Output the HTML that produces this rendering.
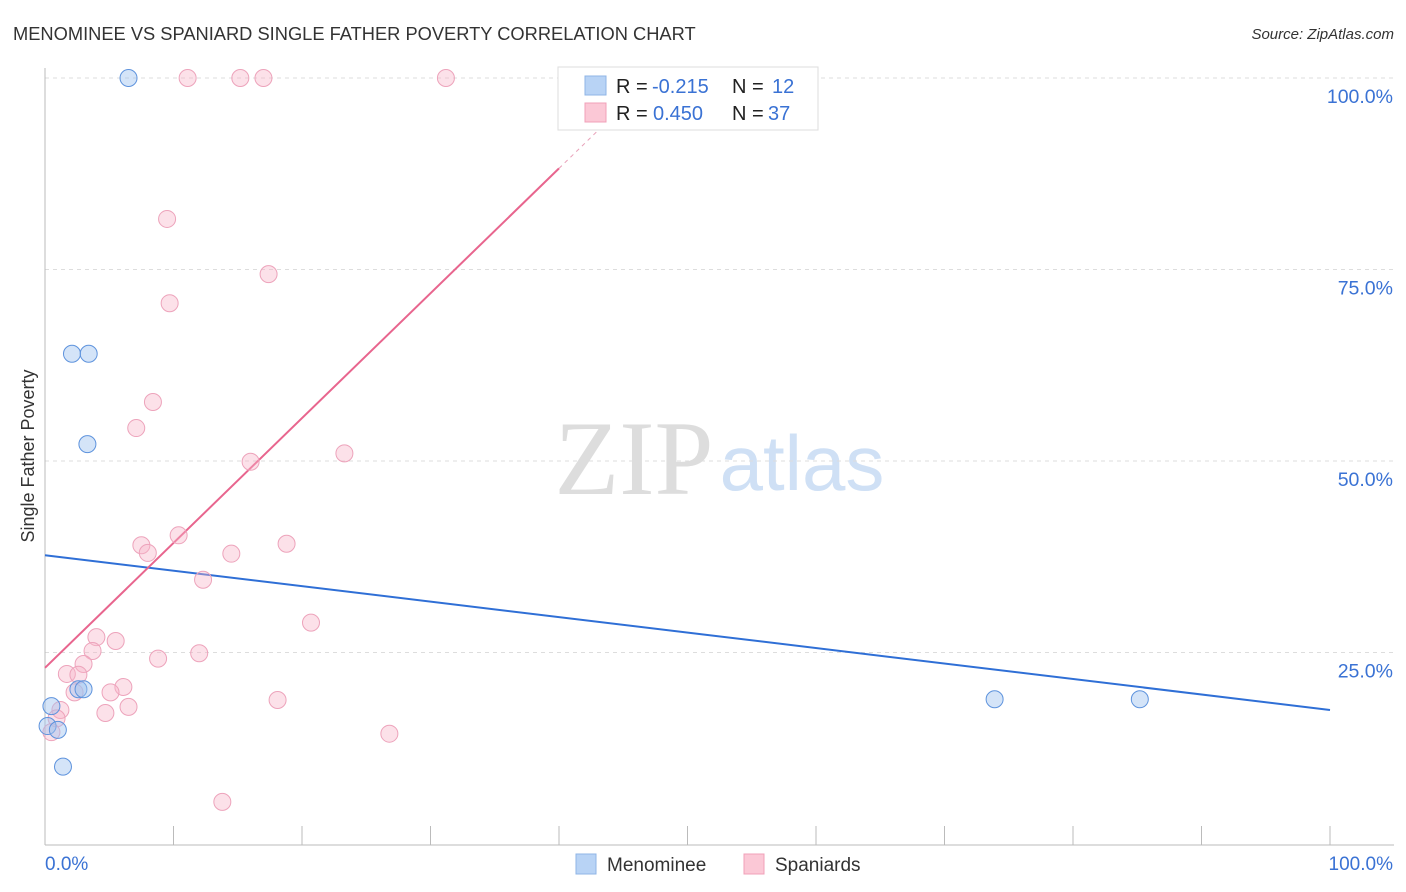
<!DOCTYPE html>
<html><head><meta charset="utf-8"><style>
body{margin:0;background:#fff;font-family:"Liberation Sans",sans-serif;}
svg{display:block}
</style></head><body>
<svg id="chart" width="1406" height="892" xmlns="http://www.w3.org/2000/svg">
<text x="13" y="40" font-size="18.3" fill="#333">MENOMINEE VS SPANIARD SINGLE FATHER POVERTY CORRELATION CHART</text>
<text x="1394" y="39" font-size="15" font-style="italic" fill="#333" text-anchor="end">Source: ZipAtlas.com</text>
<text x="34" y="456" font-size="18" fill="#333" text-anchor="middle" transform="rotate(-90 34 456)">Single Father Poverty</text>
<g>
<text x="634" y="494" font-size="106" font-family="Liberation Serif,serif" fill="#ddd" text-anchor="middle">ZIP</text>
<text x="802" y="490" font-size="78" fill="#cfe0f5" text-anchor="middle">atlas</text>
</g>
<g id="grid"></g>
<g id="axes"></g>
<g id="lines"></g>
<g id="points"></g>
<g>
<rect x="558" y="67" width="260" height="63" fill="#fff" stroke="#ddd"/>
<rect x="585" y="76" width="21" height="19" fill="#b8d3f5" stroke="#8fb4e6"/>
<rect x="585" y="103" width="21" height="19" fill="#fbc8d6" stroke="#f0a0b8"/>
<text font-size="20" fill="#222"><tspan x="616" y="93">R = </tspan><tspan x="652" fill="#3a72d4">-0.215</tspan><tspan x="732" y="93">N = </tspan><tspan x="772" fill="#3a72d4">12</tspan></text>
<text font-size="20" fill="#222"><tspan x="616" y="120">R = </tspan><tspan x="653" fill="#3a72d4">0.450</tspan><tspan x="732" y="120">N = </tspan><tspan x="768" fill="#3a72d4">37</tspan></text>
</g>
<g>
<rect x="576" y="854" width="20" height="20" fill="#b8d3f5" stroke="#8fb4e6"/>
<text x="607" y="871" font-size="19" fill="#333">Menominee</text>
<rect x="744" y="854" width="20" height="20" fill="#fbc8d6" stroke="#f0a0b8"/>
<text x="775" y="871" font-size="19" fill="#333">Spaniards</text>
</g>
</svg>
<script>
const yTicks = [25, 50, 75, 100];
const yTickLabels = ["25.0%", "50.0%", "75.0%", "100.0%"];
const xTickLabels = ["0.0%", "100.0%"];
const menomineeX = [6.5, 2.1, 3.4, 3.3, 2.6, 3.0, 0.5, 0.2, 1.0, 1.4, 73.9, 85.2];
const menomineeY = [100, 64.0, 64.0, 52.2, 20.2, 20.2, 18.0, 15.4, 14.9, 10.1, 18.9, 18.9];
const spaniardsX = [11.1, 15.2, 17.0, 31.2, 9.5, 17.4, 9.7, 8.4, 7.1, 16.0, 23.3, 10.4, 7.5, 18.8, 8.0, 14.5, 12.3, 20.7, 4.0, 5.5, 3.7, 12.0, 8.8, 3.0, 1.7, 2.6, 6.1, 5.1, 2.3, 1.2, 6.5, 4.7, 18.1, 0.9, 0.5, 13.8, 26.8];
const spaniardsY = [100, 100, 100, 100, 81.6, 74.4, 70.6, 57.7, 54.3, 49.9, 51.0, 40.3, 39.0, 39.2, 38.0, 37.9, 34.5, 28.9, 27.0, 26.5, 25.2, 24.9, 24.2, 23.5, 22.2, 22.1, 20.5, 19.8, 19.8, 17.5, 17.9, 17.1, 18.8, 16.4, 14.6, 5.5, 14.4];
const menomineeTrend = [37.7, 17.5];
const spaniardsTrend = [23.0, 1.63];

const NS = "http://www.w3.org/2000/svg";
const sx = v => 45 + v * 12.85;
const sy = v => 844 - v * 7.66;
function mk(tag, attrs, parent) {
  const e = document.createElementNS(NS, tag);
  for (const k in attrs) e.setAttribute(k, attrs[k]);
  parent.appendChild(e);
  return e;
}
const grid = document.getElementById("grid");
const axes = document.getElementById("axes");
yTicks.forEach((t, i) => {
  const l = mk("line", {x1: 45, x2: 1394, y1: sy(t), y2: sy(t), stroke: "#ddd", "stroke-dasharray": "4,4"}, grid);
  
  
  const tx = mk("text", {x: 1393, y: sy(t) + 25, "font-size": 19.5, fill: "#3a72d4", "text-anchor": "end"}, axes);
  tx.textContent = yTickLabels[i];
  
  
});
const ax = mk("line", {x1: 45, x2: 45, y1: 68, y2: 845, stroke: "#bbb"}, axes);


const bx = mk("line", {x1: 45, x2: 1394, y1: 845, y2: 845, stroke: "#bbb"}, axes);


for (let i = 1; i <= 10; i++) {
  const t = mk("line", {x1: sx(i * 10), x2: sx(i * 10), y1: 826, y2: 845, stroke: "#bbb"}, axes);
  
  
}
const xl0 = mk("text", {x: 45, y: 870, "font-size": 19, fill: "#3a72d4"}, axes);
xl0.textContent = xTickLabels[0];


const xl1 = mk("text", {x: 1393, y: 870, "font-size": 19, fill: "#3a72d4", "text-anchor": "end"}, axes);
xl1.textContent = xTickLabels[1];



const lines = document.getElementById("lines");
const bl = mk("line", {x1: sx(0), y1: sy(menomineeTrend[0]), x2: sx(100), y2: sy(menomineeTrend[1]), stroke: "#2f6fd6", "stroke-width": 2}, lines);


const pe = 40;
const pl = mk("line", {x1: sx(0), y1: sy(spaniardsTrend[0]), x2: sx(pe), y2: sy(spaniardsTrend[0] + spaniardsTrend[1] * pe), stroke: "#e8658e", "stroke-width": 2}, lines);


const pd = mk("line", {x1: sx(pe), y1: sy(spaniardsTrend[0] + spaniardsTrend[1] * pe), x2: sx(43.6), y2: sy(spaniardsTrend[0] + spaniardsTrend[1] * 43.6), stroke: "#e8a0b8", "stroke-width": 1, "stroke-dasharray": "4,4"}, lines);



const pts = document.getElementById("points");
spaniardsX.forEach((x, i) => {
  const c = mk("circle", {cx: sx(x), cy: sy(spaniardsY[i]), r: 8.5, fill: "rgba(248,180,200,0.4)", stroke: "#eda3bb", "stroke-width": 1}, pts);
  
  
});
menomineeX.forEach((x, i) => {
  const c = mk("circle", {cx: sx(x), cy: sy(menomineeY[i]), r: 8.5, fill: "rgba(160,195,240,0.45)", stroke: "#5e93dd", "stroke-width": 1}, pts);
  
  
});
</script>
</body></html>
